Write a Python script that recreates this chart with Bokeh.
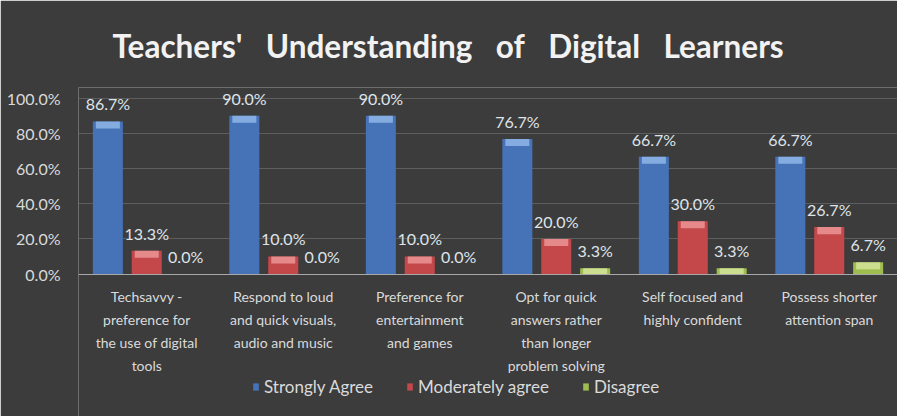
import numpy as np
from bokeh.plotting import figure
from bokeh.models import (ColumnDataSource, FactorRange, Legend, LegendItem,
                          FixedTicker, Range1d, CustomJSTickFormatter)
from bokeh.transform import dodge
from bokeh.core.properties import value
from bokeh.embed import file_html
from bokeh.resources import INLINE

categories = [
    "Techsavvy -\npreference for\nthe use of digital\ntools",
    "Respond to loud\nand quick visuals,\naudio and music",
    "Preference for\nentertainment\nand games",
    "Opt for quick\nanswers rather\nthan longer\nproblem solving",
    "Self focused and\nhighly confident",
    "Possess shorter\nattention span",
]
strongly_agree = [86.7, 90.0, 90.0, 76.7, 66.7, 66.7]
moderately_agree = [13.3, 10.0, 10.0, 20.0, 30.0, 26.7]
disagree = [0.0, 0.0, 0.0, 3.3, 3.3, 6.7]
series_names = ["Strongly Agree", "Moderately agree", "Disagree"]
y_ticks = [0, 20, 40, 60, 80, 100]

FONT = "Lato"
BG = "#3c3c3c"

# frame spans from below the title to the bottom of the canvas; the x axis sits at y=0
p = figure(frame_width=819, frame_height=329,
           x_range=FactorRange(factors=categories, range_padding=0),
           y_range=Range1d(-80.9, 106), output_backend="svg", toolbar_location=None,
           min_border_left=78, min_border_right=0, min_border_top=87, min_border_bottom=0)
p.background_fill_color = BG
p.border_fill_color = BG
p.outline_line_color = None

p.title.text = "Teachers'\u2002 Understanding\u2002 of\u2002 Digital\u2002 Learners"
p.title.text_font = FONT
p.title.text_font_style = "bold"
p.title.text_font_size = "31.5px"
p.title.text_color = "#f2f2f2"
p.title.align = "left"
p.title.offset = 34
p.title.standoff = 45

p.xgrid.grid_line_color = None
p.ygrid.grid_line_color = "#5e5e5e"
p.ygrid.ticker = FixedTicker(ticks=y_ticks[1:])

p.yaxis.ticker = FixedTicker(ticks=y_ticks)
p.yaxis.formatter = CustomJSTickFormatter(code="return tick.toFixed(1) + '%';")
p.yaxis.axis_line_color = None
p.yaxis.major_tick_line_color = None
p.yaxis.minor_tick_line_color = None
p.yaxis.major_label_standoff = 12
p.yaxis.major_label_text_font = FONT
p.yaxis.major_label_text_font_size = "16px"
p.yaxis.major_label_text_color = "#dadada"

p.xaxis.fixed_location = 0
p.xaxis.axis_line_color = "#a8a8a8"
p.xaxis.major_tick_line_color = None
p.xaxis.minor_tick_line_color = None
p.xaxis.separator_line_color = None
p.xaxis.major_label_standoff = 8
p.xaxis.major_label_text_font = FONT
p.xaxis.major_label_text_font_size = "14px"
p.xaxis.major_label_text_color = "#dadada"
p.xaxis.major_label_text_line_height = 1.35
p.xaxis.major_label_orientation = "horizontal"

src = ColumnDataSource(dict(
    cat=categories,
    sa=strongly_agree, ma=moderately_agree, di=disagree,
    sa_hi=list(np.maximum(np.array(strongly_agree) - 4.0, 0)),
    ma_hi=list(np.maximum(np.array(moderately_agree) - 4.0, 0)),
    di_hi=list(np.maximum(np.array(disagree) - 4.0, 0)),
    sa_lbl=[f"{v:.1f}%" for v in strongly_agree],
    ma_lbl=[f"{v:.1f}%" for v in moderately_agree],
    di_lbl=[f"{v:.1f}%" for v in disagree],
))

offsets = [-0.285, 0.0, 0.285]
cols = ["sa", "ma", "di"]
colors = ["#4673b8", "#c4474a", "#9fbd4e"]
highlights = ["#8fb6e6", "#eb9597", "#d3e59a"]
W = 0.22
renderers = []
for off, c, col, hi in zip(offsets, cols, colors, highlights):
    x = dodge("cat", off, range=p.x_range)
    r = p.vbar(x=x, top=c, bottom=0, width=W, source=src, fill_color=col, line_color=None)
    p.vbar(x=x, top=c, bottom=c + "_hi", width=W * 0.8, source=src, fill_color=hi,
           line_color=None, fill_alpha=0.85)
    p.text(x=x, y=c, text=c + "_lbl", source=src, text_align="center", text_baseline="bottom",
           y_offset=-8, text_font=value(FONT), text_font_size="16px", text_color="#dfe4ea")
    renderers.append(r)

legend = Legend(items=[LegendItem(label=n, renderers=[r]) for n, r in zip(series_names, renderers)],
                orientation="horizontal", location=(174, 19), background_fill_alpha=0,
                border_line_color=None, padding=0, margin=0, spacing=33, label_standoff=5,
                glyph_width=7, glyph_height=9, label_text_font=FONT, label_text_font_size="17px",
                label_text_color="#dadada", label_height=18)
p.add_layout(legend, "center")

open("out.html", "w").write(file_html(p, INLINE))
